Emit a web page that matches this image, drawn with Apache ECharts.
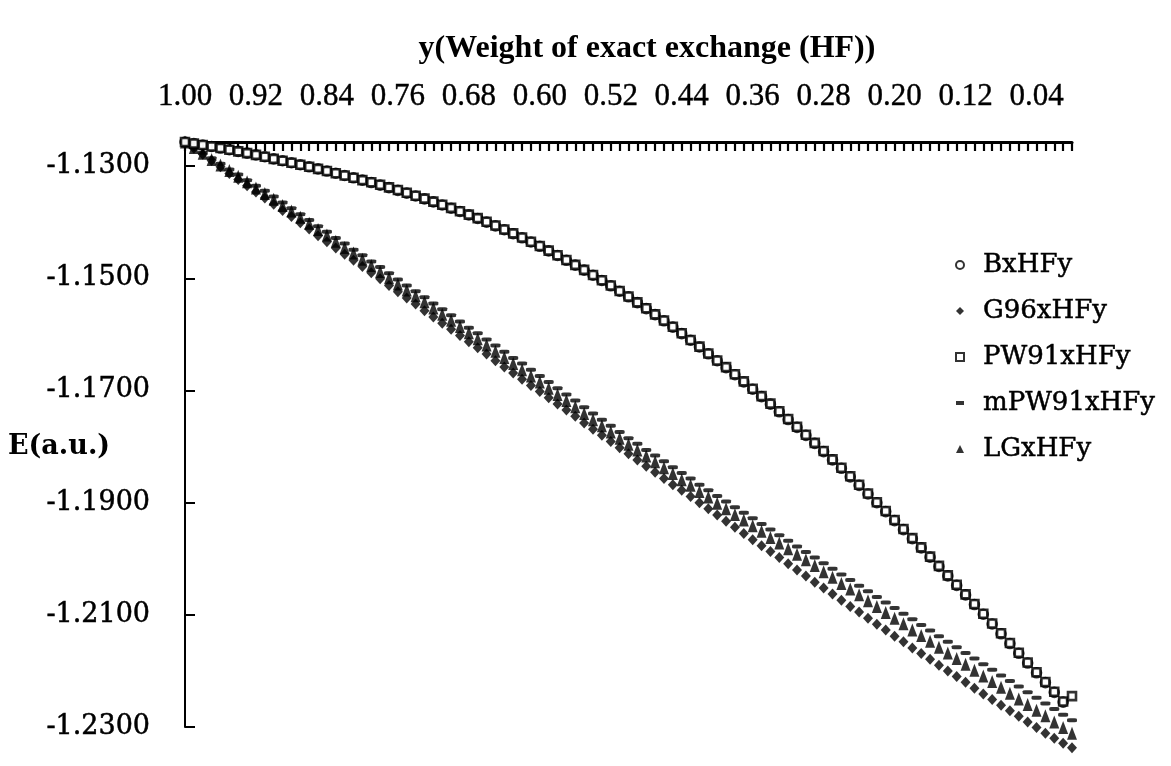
<!DOCTYPE html>
<html>
<head>
<meta charset="utf-8">
<script src="https://cdn.jsdelivr.net/npm/echarts@6/dist/echarts.min.js"></script>
<style>
  html, body { margin: 0; padding: 0; background: #fff; }
  #chart { width: 1171px; height: 766px; }
</style>
</head>
<body>
<div id="chart"></div>
<script>
// HF exchange weight y, from 1.00 down to 0.00
const categories = [
  '1.00','0.99','0.98','0.97','0.96','0.95','0.94','0.93','0.92','0.91',
  '0.90','0.89','0.88','0.87','0.86','0.85','0.84','0.83','0.82','0.81',
  '0.80','0.79','0.78','0.77','0.76','0.75','0.74','0.73','0.72','0.71',
  '0.70','0.69','0.68','0.67','0.66','0.65','0.64','0.63','0.62','0.61',
  '0.60','0.59','0.58','0.57','0.56','0.55','0.54','0.53','0.52','0.51',
  '0.50','0.49','0.48','0.47','0.46','0.45','0.44','0.43','0.42','0.41',
  '0.40','0.39','0.38','0.37','0.36','0.35','0.34','0.33','0.32','0.31',
  '0.30','0.29','0.28','0.27','0.26','0.25','0.24','0.23','0.22','0.21',
  '0.20','0.19','0.18','0.17','0.16','0.15','0.14','0.13','0.12','0.11',
  '0.10','0.09','0.08','0.07','0.06','0.05','0.04','0.03','0.02','0.01',
  '0.00'
];

// Total energies E (a.u.) for each functional mix; null = no value at that weight
const bxHFy = [
  -1.12570,-1.12596,-1.12623,-1.12650,-1.12678,-1.12707,-1.12737,-1.12768,-1.12800,-1.12833,
  -1.12870,-1.12904,-1.12939,-1.12975,-1.13012,-1.13050,-1.13088,-1.13127,-1.13167,-1.13208,
  -1.13250,-1.13293,-1.13338,-1.13384,-1.13432,-1.13481,-1.13532,-1.13584,-1.13638,-1.13693,
  -1.13750,-1.13809,-1.13870,-1.13933,-1.13998,-1.14065,-1.14134,-1.14205,-1.14278,-1.14353,
  -1.14430,-1.14511,-1.14594,-1.14679,-1.14766,-1.14855,-1.14946,-1.15039,-1.15134,-1.15231,
  -1.15330,-1.15434,-1.15540,-1.15648,-1.15758,-1.15870,-1.15986,-1.16104,-1.16224,-1.16346,
  -1.16470,-1.16594,-1.16720,-1.16848,-1.16978,-1.17110,-1.17244,-1.17380,-1.17518,-1.17658,
  -1.17800,-1.17944,-1.18090,-1.18238,-1.18388,-1.18540,-1.18692,-1.18846,-1.19002,-1.19160,
  -1.19320,-1.19481,-1.19643,-1.19807,-1.19972,-1.20138,-1.20306,-1.20475,-1.20645,-1.20817,
  -1.20990,-1.21164,-1.21338,-1.21512,-1.21686,-1.21860,-1.22034,-1.22208,-1.22382,-1.22556,
  null
];

const g96xHFy = [
  -1.1257,-1.1268,-1.1279,-1.1290,-1.1301,-1.1313,-1.1324,-1.1335,-1.1346,-1.1357,
  -1.1368,-1.1379,-1.1390,-1.1401,-1.1412,-1.1424,-1.1435,-1.1446,-1.1457,-1.1468,
  -1.1479,-1.1490,-1.1501,-1.1513,-1.1524,-1.1535,-1.1546,-1.1558,-1.1569,-1.1580,
  -1.1591,-1.1602,-1.1613,-1.1624,-1.1635,-1.1647,-1.1658,-1.1669,-1.1680,-1.1691,
  -1.1702,-1.1713,-1.1724,-1.1735,-1.1746,-1.1758,-1.1769,-1.1780,-1.1791,-1.1802,
  -1.1813,-1.1824,-1.1835,-1.1846,-1.1857,-1.1868,-1.1878,-1.1889,-1.1900,-1.1911,
  -1.1922,-1.1933,-1.1944,-1.1955,-1.1966,-1.1977,-1.1987,-1.1998,-1.2009,-1.2020,
  -1.2031,-1.2042,-1.2052,-1.2063,-1.2074,-1.2085,-1.2095,-1.2106,-1.2117,-1.2127,
  -1.2138,-1.2148,-1.2159,-1.2169,-1.2179,-1.2190,-1.2200,-1.2210,-1.2220,-1.2231,
  -1.2241,-1.2251,-1.2261,-1.2271,-1.2281,-1.2291,-1.2301,-1.2311,-1.2320,-1.2329,
  -1.2337
];

const pw91xHFy = [
  -1.12570,-1.12596,-1.12623,-1.12650,-1.12678,-1.12707,-1.12737,-1.12768,-1.12800,-1.12833,
  -1.12870,-1.12904,-1.12939,-1.12975,-1.13012,-1.13050,-1.13088,-1.13127,-1.13167,-1.13208,
  -1.13250,-1.13288,-1.13333,-1.13379,-1.13427,-1.13476,-1.13527,-1.13579,-1.13633,-1.13688,
  -1.13745,-1.13804,-1.13865,-1.13928,-1.13993,-1.14060,-1.14129,-1.14200,-1.14273,-1.14348,
  -1.14425,-1.14506,-1.14589,-1.14674,-1.14761,-1.14850,-1.14941,-1.15034,-1.15129,-1.15226,
  -1.15325,-1.15429,-1.15535,-1.15643,-1.15753,-1.15865,-1.15981,-1.16099,-1.16219,-1.16341,
  -1.16465,-1.16584,-1.16710,-1.16838,-1.16968,-1.17100,-1.17234,-1.17370,-1.17508,-1.17648,
  -1.17790,-1.17934,-1.18080,-1.18228,-1.18378,-1.18530,-1.18682,-1.18836,-1.18992,-1.19150,
  -1.19310,-1.19471,-1.19633,-1.19797,-1.19962,-1.20128,-1.20296,-1.20465,-1.20635,-1.20807,
  -1.20980,-1.21154,-1.21328,-1.21502,-1.21676,-1.21850,-1.22024,-1.22198,-1.22372,-1.22546,
  -1.22450
];

const mpw91xHFy = [
  -1.1257,-1.1267,-1.1276,-1.1286,-1.1296,-1.1306,-1.1315,-1.1325,-1.1335,-1.1344,
  -1.1354,-1.1365,-1.1375,-1.1386,-1.1396,-1.1407,-1.1417,-1.1428,-1.1438,-1.1449,
  -1.1459,-1.1470,-1.1480,-1.1491,-1.1502,-1.1513,-1.1523,-1.1534,-1.1545,-1.1555,
  -1.1566,-1.1577,-1.1588,-1.1598,-1.1609,-1.1620,-1.1631,-1.1642,-1.1652,-1.1663,
  -1.1674,-1.1685,-1.1696,-1.1707,-1.1718,-1.1730,-1.1741,-1.1752,-1.1763,-1.1774,
  -1.1785,-1.1795,-1.1806,-1.1816,-1.1826,-1.1837,-1.1847,-1.1857,-1.1868,-1.1878,
  -1.1888,-1.1898,-1.1908,-1.1918,-1.1928,-1.1938,-1.1948,-1.1958,-1.1968,-1.1978,
  -1.1988,-1.1998,-1.2008,-1.2018,-1.2028,-1.2038,-1.2048,-1.2058,-1.2068,-1.2078,
  -1.2088,-1.2098,-1.2108,-1.2118,-1.2128,-1.2138,-1.2148,-1.2158,-1.2168,-1.2178,
  -1.2188,-1.2198,-1.2208,-1.2218,-1.2228,-1.2238,-1.2248,-1.2258,-1.2268,-1.2278,
  -1.2288
];

const lgxHFy = [
  -1.1257,-1.1267,-1.1277,-1.1288,-1.1298,-1.1308,-1.1318,-1.1328,-1.1339,-1.1349,
  -1.1359,-1.1370,-1.1380,-1.1391,-1.1402,-1.1413,-1.1423,-1.1434,-1.1445,-1.1455,
  -1.1466,-1.1477,-1.1488,-1.1499,-1.1510,-1.1521,-1.1531,-1.1542,-1.1553,-1.1564,
  -1.1575,-1.1586,-1.1597,-1.1608,-1.1619,-1.1630,-1.1641,-1.1652,-1.1663,-1.1674,
  -1.1685,-1.1696,-1.1707,-1.1718,-1.1729,-1.1741,-1.1752,-1.1763,-1.1774,-1.1785,
  -1.1796,-1.1806,-1.1817,-1.1827,-1.1838,-1.1848,-1.1859,-1.1869,-1.1880,-1.1890,
  -1.1901,-1.1911,-1.1921,-1.1931,-1.1941,-1.1951,-1.1962,-1.1972,-1.1982,-1.1992,
  -1.2002,-1.2012,-1.2023,-1.2033,-1.2044,-1.2054,-1.2064,-1.2075,-1.2085,-1.2096,
  -1.2106,-1.2116,-1.2127,-1.2137,-1.2147,-1.2158,-1.2168,-1.2178,-1.2188,-1.2199,
  -1.2209,-1.2219,-1.2229,-1.2240,-1.2250,-1.2260,-1.2270,-1.2280,-1.2291,-1.2301,
  -1.2311
];

const seriesNames = ['BxHFy', 'G96xHFy', 'PW91xHFy', 'mPW91xHFy', 'LGxHFy'];
const yAxisTitle = 'E(a.u.)';
const xAxisTitle = 'y(Weight of exact exchange (HF))';

const chart = echarts.init(document.getElementById('chart'), null, { renderer: 'canvas' });

const serif = 'Liberation Serif';
const slab = 'DejaVu Serif';

const openMarker = { color: '#fff', borderColor: '#000', borderWidth: 2.6 };
const solidMarker = { color: '#000' };

chart.setOption({
  animation: false,
  backgroundColor: '#fff',
  title: {
    text: xAxisTitle,
    left: 642,
    top: 28,
    textAlign: 'center',
    textStyle: { fontFamily: serif, fontWeight: 'bold', fontSize: 32, color: '#000' }
  },
  graphic: [{
    type: 'text',
    left: 8,
    top: 433,
    style: {
      text: yAxisTitle,
      font: 'bold 27px "DejaVu Serif"',
      fill: '#000'
    }
  }],
  grid: { left: 185, right: 99, top: 142, bottom: 39, containLabel: false, outerBoundsMode: 'none' },
  legend: {
    orient: 'vertical',
    left: 950,
    top: 245,
    itemWidth: 8,
    itemHeight: 8,
    itemGap: 16,
    textStyle: {
      fontFamily: slab, fontSize: 26, lineHeight: 30, color: '#000',
      textBorderColor: '#000', textBorderWidth: 0.5, padding: [0, 0, 0, 14]
    },
    data: [
      { name: seriesNames[0], icon: 'circle' },
      { name: seriesNames[1], icon: 'diamond' },
      { name: seriesNames[2], icon: 'rect' },
      { name: seriesNames[3], icon: 'path://M0,0 L10,0 L10,5 L0,5 Z' },
      { name: seriesNames[4], icon: 'triangle' }
    ]
  },
  xAxis: {
    type: 'category',
    position: 'top',
    data: categories,
    boundaryGap: false,
    axisLine: { onZero: false, lineStyle: { color: '#000', width: 3 } },
    axisTick: { interval: 0, inside: true, length: 9, lineStyle: { color: '#000', width: 2.2 } },
    axisLabel: {
      interval: 7, margin: 30, fontFamily: serif, fontSize: 31, color: '#000',
      textBorderColor: '#000', textBorderWidth: 0.4
    },
    splitLine: { show: false }
  },
  yAxis: {
    type: 'value',
    min: -1.23,
    max: -1.1257,
    interval: 0.02,
    axisLine: { show: true, onZero: false, lineStyle: { color: '#000', width: 2 } },
    axisTick: { show: true, inside: true, length: 10, lineStyle: { color: '#000', width: 2 } },
    axisLabel: {
      margin: 35,
      fontFamily: slab,
      fontSize: 27,
      color: '#000',
      textBorderColor: '#000',
      textBorderWidth: 0.5,
      showMaxLabel: false,
      formatter: v => v.toFixed(4)
    },
    splitLine: { show: false }
  },
  series: [
    { name: seriesNames[0], type: 'scatter', data: bxHFy, symbol: 'circle', symbolSize: 9, itemStyle: openMarker, clip: false, z: 3 },
    { name: seriesNames[1], type: 'scatter', data: g96xHFy, symbol: 'diamond', symbolSize: [10, 11], itemStyle: solidMarker, clip: false },
    { name: seriesNames[2], type: 'scatter', data: pw91xHFy, symbol: 'rect', symbolSize: 8, itemStyle: openMarker, clip: false, z: 4 },
    { name: seriesNames[3], type: 'scatter', data: mpw91xHFy, symbol: 'roundRect', symbolSize: [10, 4], itemStyle: solidMarker, clip: false },
    { name: seriesNames[4], type: 'scatter', data: lgxHFy, symbol: 'triangle', symbolSize: [10, 13], itemStyle: solidMarker, clip: false }
  ]
});
</script>
</body>
</html>
